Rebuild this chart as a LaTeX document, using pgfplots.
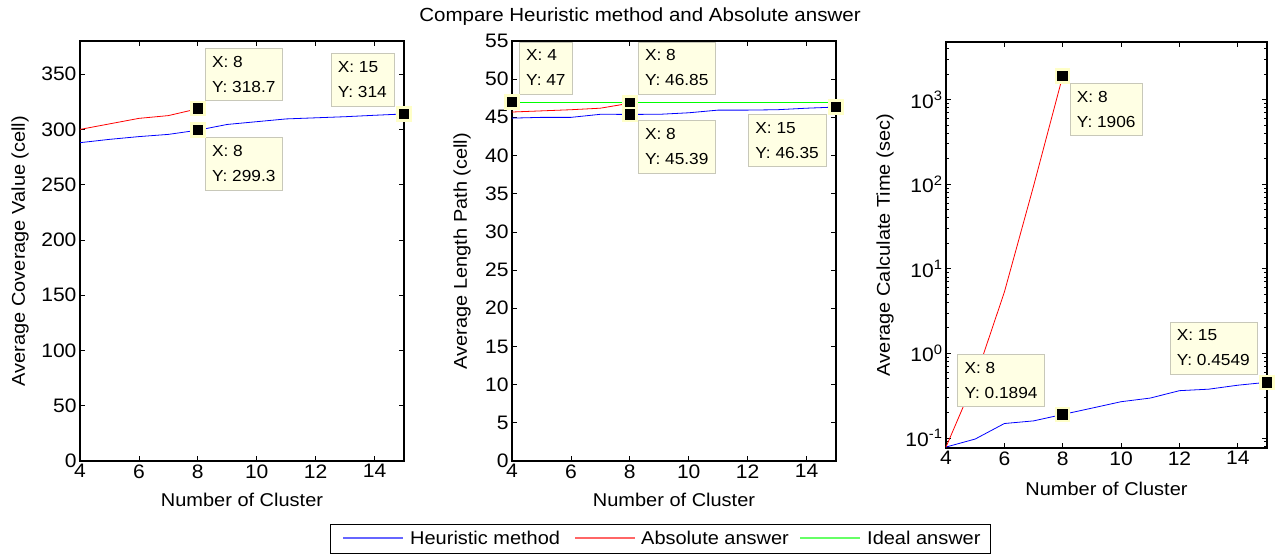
\documentclass[border=0pt]{standalone}
\usepackage{fontspec}
\setmainfont{Liberation Sans}[FakeStretch=1.08]
\usepackage{pgfplots}
\pgfplotsset{compat=1.18}

\definecolor{tipfill}{RGB}{255,255,228}
\definecolor{tipedge}{RGB}{200,200,185}
\definecolor{markedge}{RGB}{255,255,200}
\definecolor{heu}{RGB}{0,0,255}
\definecolor{absol}{RGB}{255,0,0}
\definecolor{ideal}{RGB}{0,255,0}

\pgfplotsset{
  mat/.style={
    scale only axis,
    xmin=4, xmax=15,
    xtick={4,6,...,14},
    tick align=inside,
    xtick pos=both, ytick pos=both,
    major tick length=5pt, minor tick length=3pt,
    axis line style={line width=1.1pt},
    every tick/.style={black, line width=0.8pt},
    tick label style={font=\fontsize{19.5}{21}\selectfont},
    label style={font=\fontsize{18.5}{20}\selectfont},
    /pgf/number format/assume math mode=true,
    clip=false,
    xlabel={Number of Cluster},
    every axis plot/.append style={line width=0.8pt},
  },
  tipmark/.style={only marks, mark=square*, mark size=6.5pt,
    mark options={fill=black, draw=markedge, line width=2.5pt}, forget plot},
}
\tikzset{tip/.style={draw=tipedge, fill=tipfill, align=left,
  font=\fontsize{16}{25}\selectfont, inner xsep=7pt, inner ysep=8pt}}

\begin{document}
\begin{tikzpicture}
\path[use as bounding box] (0pt,0pt) rectangle (1277pt,554pt);

\node[font=\fontsize{19}{21}\selectfont] at (640pt,537pt)
  {Compare Heuristic method and Absolute answer};

% coverage
\begin{axis}[mat, at={(80pt,93pt)}, anchor=south west,
  width=324pt, height=420pt,
  ymin=0, ymax=380, ytick={0,50,...,350},
  ylabel={Average Coverage Value (cell)},
  ylabel style={at={(axis description cs:-0.185,0.5)}, anchor=center},
  xlabel style={at={(axis description cs:0.5,-0.093)}, anchor=center}]
  \addplot[heu] coordinates {(4,288) (5,291) (6,293.5) (7,295.5) (8,299.3) (9,304.5)
    (10,307) (11,309.5) (12,310.5) (13,311.5) (14,312.8) (15,314)};
  \addplot[absol] coordinates {(4,300) (5,305) (6,310) (7,312.5) (8,318.7)};
  \addplot[tipmark] coordinates {(8,318.7) (8,299.3) (15,314)};
  \node[tip, anchor=south west, xshift=7pt, yshift=8pt] at (axis cs:8,318.7) {X: 8\\Y: 318.7};
  \node[tip, anchor=north west, xshift=7pt, yshift=-7pt] at (axis cs:8,299.3) {X: 8\\Y: 299.3};
  \node[tip, anchor=south east, xshift=-10pt, yshift=8pt] at (axis cs:15,314) {X: 15\\Y: 314};
\end{axis}

% length path
\begin{axis}[mat, at={(512pt,93pt)}, anchor=south west,
  width=324pt, height=420pt,
  ymin=0, ymax=55, ytick={0,5,...,55},
  ylabel={Average Length Path (cell)},
  ylabel style={at={(axis description cs:-0.154,0.5)}, anchor=center},
  xlabel style={at={(axis description cs:0.5,-0.093)}, anchor=center}]
  \addplot[heu] coordinates {(4,44.9) (5,45.0) (6,45.0) (7,45.4) (8,45.39) (9,45.4)
    (10,45.6) (11,45.95) (12,45.95) (13,46.0) (14,46.2) (15,46.35)};
  \addplot[absol] coordinates {(4,45.7) (5,45.85) (6,46.0) (7,46.2) (8,46.85)};
  \addplot[ideal] coordinates {(4,47) (5,47) (6,47) (7,47) (8,47) (9,47) (10,47)
    (11,47) (12,47) (13,47) (14,47) (15,47)};
  \addplot[tipmark] coordinates {(4,47) (8,46.85) (8,45.39) (15,46.35)};
  \node[tip, anchor=south west, xshift=7pt, yshift=8pt] at (axis cs:4,47) {X: 4\\Y: 47};
  \node[tip, anchor=south west, xshift=8pt, yshift=9pt] at (axis cs:8,46.85) {X: 8\\Y: 46.85};
  \node[tip, anchor=north west, xshift=8pt, yshift=-6pt] at (axis cs:8,45.39) {X: 8\\Y: 45.39};
  \node[tip, anchor=north east, xshift=-10pt, yshift=-7pt] at (axis cs:15,46.35) {X: 15\\Y: 46.35};
\end{axis}

% calculate time
\begin{semilogyaxis}[mat, at={(946pt,106pt)}, anchor=south west,
  width=321pt, height=406pt,
  ymin=0.076, ymax=4800,
  ytick={0.1,1,10,100,1000},
  yticklabels={10\textsuperscript{-1},10\textsuperscript{0},10\textsuperscript{1},10\textsuperscript{2},10\textsuperscript{3}},
  minor ytick={0.08,0.09,0.2,0.3,0.4,0.5,0.6,0.7,0.8,0.9,2,3,4,5,6,7,8,9,
    20,30,40,50,60,70,80,90,200,300,400,500,600,700,800,900,2000,3000,4000},
  ylabel={Average Calculate Time (sec)},
  ylabel style={at={(axis description cs:-0.19,0.5)}, anchor=center},
  xlabel style={at={(axis description cs:0.5,-0.101)}, anchor=center}]
  \addplot[heu] coordinates {(4,0.078) (5,0.097) (6,0.148) (7,0.159) (8,0.1894) (9,0.225)
    (10,0.268) (11,0.296) (12,0.362) (13,0.377) (14,0.42) (15,0.4549)};
  \addplot[absol] coordinates {(4,0.078) (5,0.5) (6,5.3) (7,95) (8,1906)};
  \addplot[tipmark] coordinates {(8,1906) (8,0.1894) (15,0.4549)};
  \node[tip, anchor=north west, xshift=7pt, yshift=-7pt] at (axis cs:8,1906) {X: 8\\Y: 1906};
  \node[tip, anchor=south east, xshift=-18pt, yshift=8pt] at (axis cs:8,0.1894) {X: 8\\Y: 0.1894};
  \node[tip, anchor=south east, xshift=-10pt, yshift=8pt] at (axis cs:15,0.4549) {X: 15\\Y: 0.4549};
\end{semilogyaxis}

% shared legend
\draw[black, line width=0.8pt, fill=white] (330pt,1pt) rectangle (990pt,30pt);
\begin{scope}[font=\fontsize{18.5}{20}\selectfont]
  \draw[heu!60, line width=1.2pt] (343pt,16pt) -- (403pt,16pt);
  \node[anchor=west, inner sep=0pt] at (410pt,16pt) {Heuristic method};
  \draw[absol!60, line width=1.2pt] (575pt,16pt) -- (635pt,16pt);
  \node[anchor=west, inner sep=0pt] at (641pt,16pt) {Absolute answer};
  \draw[ideal!60, line width=1.2pt] (800pt,16pt) -- (860pt,16pt);
  \node[anchor=west, inner sep=0pt] at (867pt,16pt) {Ideal answer};
\end{scope}
\end{tikzpicture}
\end{document}
